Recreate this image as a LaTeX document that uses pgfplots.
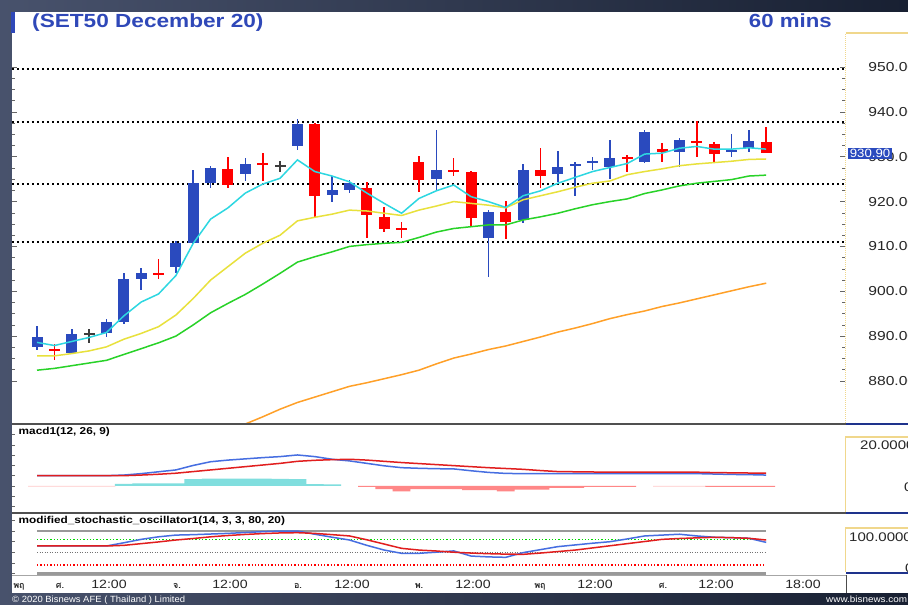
\documentclass[border=0pt]{standalone}
\usepackage{pgfplots}
\pgfplotsset{compat=1.18}
\usepackage{pgfplotstable}
\usepackage{fontspec}
\setmainfont{Liberation Sans}
\newfontfamily\thaifont[Script=Thai]{Loma}
\definecolor{cblue}{RGB}{42,74,190}
\definecolor{cred}{RGB}{255,0,0}
\definecolor{cdoji}{RGB}{60,60,60}
\definecolor{titleblue}{RGB}{47,72,184}
\definecolor{macyan}{RGB}{45,215,225}
\definecolor{mayellow}{RGB}{232,225,60}
\definecolor{magreen}{RGB}{40,210,40}
\definecolor{maorange}{RGB}{255,160,40}
\definecolor{mblue}{RGB}{70,110,225}
\definecolor{mred}{RGB}{225,30,30}
\definecolor{hcyan}{RGB}{128,222,222}
\definecolor{hsalmon}{RGB}{255,135,135}
\definecolor{hpink}{RGB}{255,200,200}
\definecolor{ybord}{RGB}{240,215,140}
\definecolor{pbord}{RGB}{30,50,140}
\definecolor{sepgray}{RGB}{80,80,80}
\definecolor{bgleft}{RGB}{72,82,108}
\definecolor{bgright}{RGB}{24,32,50}

\pgfplotstableread{
i o h l c
1 887.5 892.3 887.0 889.7
3 886.3 891.7 886.0 890.4
5 890.7 893.9 889.7 893.2
6 893.1 904.0 892.7 902.7
7 902.7 905.2 900.3 904.0
9 905.5 911.2 904.1 910.7
10 910.7 927.1 910.5 924.1
11 924.2 927.9 923.1 927.4
13 926.2 929.7 924.7 928.4
16 932.3 938.4 931.5 937.3
18 921.5 925.6 919.8 922.6
19 922.6 924.8 921.9 924.2
24 925.0 936.0 922.4 927.1
27 912.0 918.1 903.2 917.7
29 915.9 928.4 915.2 927.1
31 926.1 931.3 924.4 927.7
32 927.9 928.9 921.3 928.5
33 928.8 930.0 927.1 929.0
34 927.7 933.8 925.0 929.8
36 928.9 936.0 928.7 935.6
38 931.0 934.1 927.8 933.8
41 931.1 935.0 929.9 931.5
42 932.0 936.0 931.1 933.5
}\upT
\pgfplotstableread{
i o h l c
2 887.1 888.2 884.6 886.7
8 904.1 907.2 902.7 903.8
12 927.2 930.0 923.1 923.7
14 928.5 930.9 924.7 928.3
17 937.3 937.5 916.5 921.3
20 923.1 924.4 911.8 916.9
21 916.6 918.9 913.3 913.8
22 914.0 915.5 912.0 913.7
23 928.9 930.2 922.2 924.8
25 927.0 929.7 925.7 926.6
26 926.7 926.9 914.4 916.3
28 917.6 920.2 911.6 915.5
30 927.1 931.9 923.1 925.8
35 929.9 930.4 926.7 929.5
37 931.7 933.0 928.8 931.1
39 933.6 938.0 930.0 933.2
40 932.9 933.2 928.5 930.6
43 933.2 936.6 930.8 930.9
}\downT
\pgfplotstableread{
i o h l c
4 890.4 891.6 888.5 890.4
15 927.9 929.1 926.7 927.9
}\dojiT
\pgfplotstableread{
i cy ye gr
1 888.6 885.6 882.4
2 887.9 885.6 882.8
3 888.8 886.1 883.4
4 889.7 886.7 884.0
5 890.8 887.6 884.6
6 894.5 889.3 885.9
7 897.6 890.6 887.2
8 899.4 892.1 888.5
9 903.5 894.7 890.0
10 910.7 898.4 892.5
11 916.1 902.5 895.2
12 918.6 905.5 897.3
13 921.9 908.5 899.3
14 923.9 910.7 901.6
15 925.2 912.5 904.0
16 929.3 915.7 906.5
17 926.7 916.5 907.7
18 925.7 917.2 908.8
19 924.4 918.1 910.0
20 921.9 917.9 910.4
21 919.6 917.4 910.7
22 917.4 916.9 910.9
23 920.7 918.1 912.0
24 922.4 919.0 913.2
25 923.7 920.0 914.0
26 921.1 919.6 914.4
27 920.0 919.2 914.8
28 918.7 918.6 914.8
29 921.3 920.4 915.9
30 922.4 921.3 916.6
31 924.1 922.2 917.4
32 925.4 923.2 918.4
33 926.7 924.1 919.3
34 927.6 924.6 920.0
35 928.5 926.0 920.6
36 930.6 926.7 921.8
37 930.8 927.3 922.6
38 931.9 928.0 923.5
39 932.3 928.4 924.1
40 931.7 928.7 924.5
41 931.7 929.0 924.9
42 932.0 929.4 925.7
43 931.7 929.5 925.9
}\maT
\pgfplotstableread{
i v
12 869.0
13 870.4
14 872.0
15 873.7
16 875.2
17 876.4
18 877.6
19 878.8
20 879.6
21 880.5
22 881.4
23 882.4
24 883.8
25 885.1
26 886.0
27 887.0
28 887.8
29 888.8
30 889.8
31 890.9
32 891.8
33 892.8
34 893.9
35 894.8
36 895.6
37 896.6
38 897.4
39 898.3
40 899.2
41 900.1
42 901.0
43 901.8
}\orT
\pgfplotstableread{
i m s
1 5.0 5.0
2 5.0 5.0
3 5.0 5.0
4 5.0 5.0
5 5.0 5.0
6 5.3 5.0
7 6.0 5.3
8 6.9 5.7
9 7.8 6.2
10 10.0 7.0
11 11.8 7.8
12 12.6 8.6
13 13.2 9.4
14 13.8 10.2
15 14.3 11.0
16 15.1 12.0
17 14.3 12.5
18 13.0 12.8
19 12.2 13.0
20 11.0 12.6
21 9.8 12.0
22 8.9 11.4
23 8.6 10.9
24 8.4 10.4
25 8.3 9.9
26 7.4 9.4
27 6.6 8.9
28 6.1 8.5
29 6.0 8.1
30 6.0 7.5
31 6.0 7.0
32 6.0 6.9
33 6.0 6.8
34 6.0 6.7
35 6.0 6.7
36 6.0 6.7
37 6.0 6.7
38 6.0 6.7
39 6.0 6.7
40 5.8 6.5
41 5.6 6.4
42 5.5 6.3
43 5.3 6.2
}\macdT
\pgfplotstableread{
i h
6 1.0
7 1.2
8 1.2
9 1.3
10 3.3
11 3.6
12 3.6
13 3.6
14 3.6
15 3.5
16 3.3
17 0.9
18 0.8
}\hposT
\pgfplotstableread{
i h
20 -0.5
21 -1.6
22 -2.6
23 -1.6
24 -1.6
25 -1.6
26 -2.1
27 -2.1
28 -2.6
29 -1.8
30 -1.8
31 -1.0
32 -1.0
33 -0.5
34 -0.5
35 -0.5
40 -0.5
41 -0.5
42 -0.5
43 -0.5
}\hnegT
\pgfplotstableread{
i h
1 -0.3
2 -0.3
3 -0.3
4 -0.3
5 -0.3
37 -0.3
38 -0.3
39 -0.3
}\hpinkT
\pgfplotstableread{
i k d
1 64.5 64.5
2 64.5 64.5
3 64.5 64.5
4 64.5 64.5
5 64.5 64.5
6 72 66
7 80 70
8 86 74
9 90 78.5
10 91 82
11 92.5 86
12 94 89
13 96 91.5
14 98 93.5
15 99.5 95
16 99.5 95.6
17 92 94
18 85 91
19 78.5 88
20 66 79
21 55 69
22 47.4 59
23 47.4 55
24 50 52.8
25 53 50
26 41 48
27 39 46.5
28 38 45.5
29 49 45
30 56 48
31 63 51.5
32 67 55
33 71 60
34 74.5 65
35 81 70
36 88 75
37 90 80
38 92 82
39 88 83.5
40 85 84.8
41 84 84
42 82.5 82.5
43 73 78.5
}\stoT

\pgfplotsset{
  wick/.style={draw=none, mark=none, forget plot,
    error bars/.cd, y dir=both, y explicit, error mark=none,
    error bar style={line width=1.6pt, draw=#1}},
  body/.style={draw=none, mark=none, forget plot,
    error bars/.cd, y dir=both, y explicit, error mark=none,
    error bar style={line width=11pt, draw=#1}},
}

\begin{document}
\begin{tikzpicture}[x=1pt,y=1pt]
\useasboundingbox (0,0) rectangle (908,605);
\shade[left color=bgleft, right color=bgright] (0,0) rectangle (908,605);
\fill[white] (12,12) rectangle (908,593);
\fill[titleblue] (11,572) rectangle (15,593);

% title
\node[anchor=base west, inner sep=0pt, text=titleblue, font=\bfseries\fontsize{19}{20}\selectfont, xscale=1.19] at (32,577) {(SET50 December 20)};
\node[anchor=base east, inner sep=0pt, text=titleblue, font=\bfseries\fontsize{19}{20}\selectfont, xscale=1.17] at (832,577) {60 mins};

% main price panel
\begin{axis}[at={(12pt,181pt)}, anchor=south west, scale only axis,
  width=833pt, height=391pt,
  xmin=-0.44, xmax=47.54, ymin=870.4, ymax=957.6,
  axis line style={draw=none},
  xtick=\empty,
  ytick={880,890,...,950},
  yticklabels={880.00,890.00,900.00,910.00,920.00,930.00,940.00,950.00},
  minor y tick num=3,
  ytick pos=both, yticklabel pos=right,
  major tick length=5pt, minor tick length=3pt,
  tick style={black!60, line width=0.6pt},
  yticklabel style={font=\fontsize{13}{13}\selectfont, xscale=1.2, anchor=west, xshift=16pt, text=black!85},
]
\addplot[black, line width=2pt, dash pattern=on 2pt off 3pt] coordinates {(-0.44,949.5) (47.54,949.5)};
\addplot[black, line width=2pt, dash pattern=on 2pt off 3pt] coordinates {(-0.44,937.8) (47.54,937.8)};
\addplot[black, line width=2pt, dash pattern=on 2pt off 3pt] coordinates {(-0.44,923.9) (47.54,923.9)};
\addplot[black, line width=2pt, dash pattern=on 2pt off 3pt] coordinates {(-0.44,911.0) (47.54,911.0)};

\addplot[wick=cblue] table[x=i, y expr={(\thisrow{h}+\thisrow{l})/2}, y error expr={(\thisrow{h}-\thisrow{l})/2}] {\upT};
\addplot[body=cblue] table[x=i, y expr={(\thisrow{o}+\thisrow{c})/2}, y error expr={max(abs(\thisrow{o}-\thisrow{c})/2,0.2)}] {\upT};
\addplot[wick=cred] table[x=i, y expr={(\thisrow{h}+\thisrow{l})/2}, y error expr={(\thisrow{h}-\thisrow{l})/2}] {\downT};
\addplot[body=cred] table[x=i, y expr={(\thisrow{o}+\thisrow{c})/2}, y error expr={max(abs(\thisrow{o}-\thisrow{c})/2,0.2)}] {\downT};
\addplot[wick=cdoji] table[x=i, y expr={(\thisrow{h}+\thisrow{l})/2}, y error expr={(\thisrow{h}-\thisrow{l})/2}] {\dojiT};
\addplot[body=cdoji] table[x=i, y expr={(\thisrow{o}+\thisrow{c})/2}, y error expr={max(abs(\thisrow{o}-\thisrow{c})/2,0.2)}] {\dojiT};

\addplot[maorange, line width=1.5pt] table[x=i, y=v] {\orT};
\addplot[magreen, line width=1.5pt] table[x=i, y=gr] {\maT};
\addplot[mayellow, line width=1.5pt] table[x=i, y=ye] {\maT};
\addplot[macyan, line width=1.5pt] table[x=i, y=cy] {\maT};
\end{axis}

% MACD panel
\begin{axis}[at={(12pt,92pt)}, anchor=south west, scale only axis,
  width=833pt, height=89pt,
  xmin=-0.44, xmax=47.54, ymin=-13.2, ymax=30.2,
  axis line style={draw=none},
  xtick=\empty,
  ytick={-10,-5,...,30}, yticklabels={},
  ytick pos=left, major tick length=3pt,
  tick style={black!60, line width=0.6pt},
]
\addplot[ybar, bar width=1.02, bar shift=0pt, draw=none, fill=hcyan] table[x=i, y=h] {\hposT};
\addplot[ybar, bar width=1.02, bar shift=0pt, draw=none, fill=hsalmon] table[x=i, y=h] {\hnegT};
\addplot[ybar, bar width=1.02, bar shift=0pt, draw=none, fill=hpink] table[x=i, y=h] {\hpinkT};
\addplot[mblue, line width=1.5pt] table[x=i, y=m] {\macdT};
\addplot[mred, line width=1.5pt] table[x=i, y=s] {\macdT};
\end{axis}

% Stochastic panel
\begin{axis}[at={(12pt,30pt)}, anchor=south west, scale only axis,
  width=833pt, height=61pt,
  xmin=-0.44, xmax=47.54, ymin=-3.3, ymax=139.3,
  axis line style={draw=none},
  xtick=\empty,
  ytick={0,25,...,125}, yticklabels={},
  ytick pos=left, major tick length=3pt,
  tick style={black!60, line width=0.6pt},
]
\addplot[black!40, line width=2.5pt] coordinates {(1,100) (43,100)};
\addplot[black!40, line width=2.5pt] coordinates {(1,0) (43,0)};
\addplot[green!85!black, line width=1.3pt, dash pattern=on 1.3pt off 2pt] coordinates {(1,80) (43,80)};
\addplot[black!55, line width=0.8pt, dash pattern=on 1pt off 1.5pt] coordinates {(1,50) (43,50)};
\addplot[red, line width=1.3pt, dash pattern=on 1.3pt off 2pt] coordinates {(1,20) (43,20)};
\addplot[mblue, line width=1.5pt] table[x=i, y=k] {\stoT};
\addplot[mred, line width=1.5pt] table[x=i, y=d] {\stoT};
\end{axis}

% panel borders
\draw[sepgray, line width=2pt] (12,181) -- (846,181);
\draw[sepgray, line width=2pt] (12,92) -- (846,92);
\draw[black!35, line width=0.8pt] (12,30) -- (846,30);
\draw[ybord, line width=1.2pt, dash pattern=on 1pt off 1pt] (845.5,182) -- (845.5,572);
\draw[ybord, line width=1.2pt] (845.5,572) -- (908,572);
\draw[ybord, line width=1.2pt] (845.5,93) -- (845.5,168) -- (908,168);
\draw[ybord, line width=1.2pt] (845.5,33) -- (845.5,77) -- (908,77);
\draw[pbord, line width=2pt] (846,181) -- (908,181);
\draw[pbord, line width=2pt] (846,92) -- (908,92);
\draw[pbord, line width=2pt] (846,32) -- (908,32);
\draw[black!70, line width=1pt] (846,12) -- (846,30);

% panel titles
\node[anchor=base west, inner sep=0pt, font=\bfseries\fontsize{10}{11}\selectfont, xscale=1.18] at (18.5,170.5) {macd1(12, 26, 9)};
\node[anchor=base west, inner sep=0pt, font=\bfseries\fontsize{10}{11}\selectfont, xscale=1.18] at (18.5,81) {modified\_stochastic\_oscillator1(14, 3, 3, 80, 20)};

% right labels
\node[anchor=west, inner sep=0pt, font=\fontsize{12.5}{13}\selectfont, xscale=1.2, text=black!85] at (860,160) {20.0000};
\node[anchor=west, inner sep=0pt, font=\fontsize{12.5}{13}\selectfont, xscale=1.2, text=black!85] at (904,118) {0};
\node[anchor=west, inner sep=0pt, font=\fontsize{12.5}{13}\selectfont, xscale=1.2, text=black!85] at (849,68) {100.0000};
\node[anchor=west, inner sep=0pt, font=\fontsize{12.5}{13}\selectfont, xscale=1.2, text=black!85] at (905,37) {0};
\node[fill=cblue, text=white, inner xsep=2pt, inner ysep=1.5pt, font=\fontsize{12}{12}\selectfont, xscale=1.1] at (870,451.5) {930.90};

% time axis labels
\foreach \xx in {109,230,352,473,595,716} {
  \node[anchor=base, inner sep=0pt, font=\fontsize{12}{12}\selectfont, xscale=1.18, text=black!85] at (\xx,16.5) {12:00};
}
\node[anchor=base, inner sep=0pt, font=\fontsize{12}{12}\selectfont, xscale=1.18, text=black!85] at (803,16.5) {18:00};
\node[anchor=base, inner sep=0pt, font=\thaifont\bfseries\fontsize{9}{9}\selectfont, text=black!85] at (19,16.5) {พฤ};
\node[anchor=base, inner sep=0pt, font=\thaifont\bfseries\fontsize{9}{9}\selectfont, text=black!85] at (60,16.5) {ศ.};
\node[anchor=base, inner sep=0pt, font=\thaifont\bfseries\fontsize{9}{9}\selectfont, text=black!85] at (177,16.5) {จ.};
\node[anchor=base, inner sep=0pt, font=\thaifont\bfseries\fontsize{9}{9}\selectfont, text=black!85] at (298,16.5) {อ.};
\node[anchor=base, inner sep=0pt, font=\thaifont\bfseries\fontsize{9}{9}\selectfont, text=black!85] at (419,16.5) {พ.};
\node[anchor=base, inner sep=0pt, font=\thaifont\bfseries\fontsize{9}{9}\selectfont, text=black!85] at (540,16.5) {พฤ};
\node[anchor=base, inner sep=0pt, font=\thaifont\bfseries\fontsize{9}{9}\selectfont, text=black!85] at (663,16.5) {ศ.};

% footer
\node[anchor=base west, inner sep=0pt, text=white, font=\fontsize{9}{9}\selectfont, xscale=1.05] at (12,2) {© 2020 Bisnews AFE ( Thailand ) Limited};
\node[anchor=base west, inner sep=0pt, text=white, font=\fontsize{9}{9}\selectfont, xscale=1.1] at (826,2) {www.bisnews.com};
\end{tikzpicture}
\end{document}
